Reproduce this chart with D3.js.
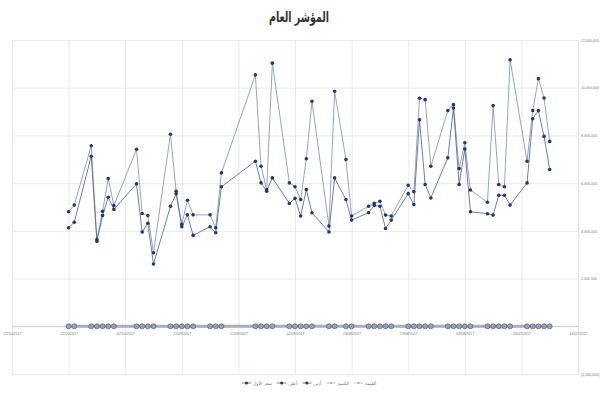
<!DOCTYPE html>
<html><head><meta charset="utf-8">
<script src="https://cdn.jsdelivr.net/npm/d3@7"></script>
<style>body{margin:0;background:#fff}svg{display:block}text{font-family:"Liberation Sans",Arial,sans-serif}</style>
</head><body><svg id="c" width="600" height="400"></svg>
<script>
const title = "المؤشر العام";
const dates = ["19/07/2017","20/07/2017","21/07/2017","22/07/2017","23/07/2017",
"26/07/2017","27/07/2017","28/07/2017","29/07/2017","30/07/2017",
"02/08/2017","03/08/2017","04/08/2017","05/08/2017","06/08/2017",
"09/08/2017","10/08/2017","11/08/2017","12/08/2017","13/08/2017",
"16/08/2017","17/08/2017","18/08/2017","19/08/2017","20/08/2017",
"23/08/2017","24/08/2017","26/08/2017","27/08/2017",
"30/08/2017","31/08/2017","01/09/2017","02/09/2017","03/09/2017",
"06/09/2017","07/09/2017","08/09/2017","09/09/2017",
"15/09/2017","16/09/2017","17/09/2017",
"20/09/2017","21/09/2017","22/09/2017","23/09/2017","24/09/2017",
"27/09/2017","28/09/2017","29/09/2017","30/09/2017",
"04/10/2017","05/10/2017","06/10/2017","07/10/2017","08/10/2017",
"11/10/2017","12/10/2017"];
const highValues = [7750000,9570000,10380000,9040000,6920000,
11170000,5850000,5940000,9250000,5200000,
5710000,7690000,6610000,9290000,9040000,
6710000,9500000,9560000,5640000,5910000,
4620000,4660000,5240000,5150000,5030000,
4620000,6990000,9850000,4200000,
9430000,7020000,5310000,5850000,6010000,
11030000,5730000,6710000,10540000,
6430000,4130000,4670000,
4670000,5280000,4270000,5660000,8050000,
3080000,4640000,4730000,7420000,
5060000,6190000,4820000,3640000,7570000,
5080000,4800000];
const lowValues = [6570000,7960000,9040000,8700000,6010000,
5080000,5490000,5490000,4660000,4720000,
4800000,7430000,5940000,9150000,7060000,
5380000,5940000,8660000,5100000,5560000,
4450000,4100000,5030000,5060000,4760000,
4450000,5310000,6220000,3950000,
4760000,5730000,4620000,5360000,5150000,
6220000,5660000,6010000,6920000,
5850000,3920000,4170000,
3810000,4670000,4170000,5560000,5030000,
2610000,4320000,3950000,5970000,
4900000,5410000,4640000,3560000,7130000,
4360000,4130000];
const baseValues = [0,0,0,0,0,0,0,0,0,0,0,0,0,0,0,0,0,0,0,0,0,0,0,0,0,0,0,0,0,0,0,0,0,0,0,0,0,0,0,0,0,0,0,0,0,0,0,0,0,0,0,0,0,0,0,0,0];
const xTickLabels = ["14/07/2017","24/07/2017","03/08/2017","13/08/2017","23/08/2017","02/09/2017","12/09/2017","22/09/2017","02/10/2017","12/10/2017","22/10/2017"];
const yTicks = [-2000000,0,2000000,4000000,6000000,8000000,10000000,12000000];
const legendNames = ["سعر الأول","أعلى","أدنى","الكمية","القيمة"];

const parse = d3.timeParse("%d/%m/%Y");
const svg = d3.select("#c");
const x = d3.scaleTime().domain([parse(xTickLabels[0]), parse(xTickLabels[xTickLabels.length-1])]).range([578, 12]);
const y = d3.scaleLinear().domain([-2000000, 12000000]).range([374, 40]);

// horizontal grid
svg.append("g").attr("transform","translate(578,0)")
  .call(d3.axisLeft(y).tickValues(yTicks).tickSize(566).tickFormat(""))
  .call(g=>{g.select(".domain").remove();g.selectAll("line").attr("stroke","#e3e3e3").attr("stroke-width",0.8);});
// vertical grid
svg.append("g").attr("transform","translate(0,374)")
  .call(d3.axisTop(x).tickValues(xTickLabels.map(parse)).tickSize(334).tickFormat(""))
  .call(g=>{g.select(".domain").remove();g.selectAll("line").attr("stroke","#e3e3e3").attr("stroke-width",0.8);});
// zero line
svg.append("line").attr("x1",12).attr("x2",578).attr("y1",y(0)).attr("y2",y(0)).attr("stroke","#c8c8c8").attr("stroke-width",0.8);
// x axis labels
svg.append("g").attr("transform",`translate(0,${y(0)})`)
  .call(d3.axisBottom(x).tickValues(xTickLabels.map(parse)).tickSize(0).tickPadding(6).tickFormat(d3.timeFormat("%d/%m/%Y")))
  .call(g=>{g.select(".domain").remove();g.selectAll("text").attr("font-size",3.6).attr("fill","#777");});
// y axis right
const yf = v => v===0 ? "-" : (v<0 ? "("+d3.format(",")(-v)+")" : d3.format(",")(v));
svg.append("g").attr("transform","translate(578,0)")
  .call(d3.axisRight(y).tickValues(yTicks).tickSize(0).tickPadding(3).tickFormat(yf))
  .call(g=>{g.select(".domain").attr("stroke","#dedede").attr("stroke-width",0.8);g.selectAll("text").attr("font-size",3.6).attr("fill","#777");});

const pts = (vals) => dates.map((d,i)=>({x:x(parse(d)), y:y(vals[i])}));
const line = d3.line().x(d=>d.x).y(d=>d.y);

// base series
svg.append("path").datum(pts(baseValues)).attr("d",line).attr("fill","none").attr("stroke","#a9adb8").attr("stroke-width",3);
svg.append("g").selectAll("circle").data(pts(baseValues)).join("circle")
  .attr("cx",d=>d.x).attr("cy",d=>d.y).attr("r",2.5).attr("fill","#9aa2b4").attr("stroke","#566078").attr("stroke-width",0.7);

// high & low
[[highValues,"#7d8cb2"],[lowValues,"#4a5d8f"]].forEach(([vals,col])=>{
  svg.append("path").datum(pts(vals)).attr("d",line).attr("fill","none").attr("stroke",col).attr("stroke-width",0.8);
});
[highValues,lowValues].forEach(vals=>{
  svg.append("g").selectAll("circle").data(pts(vals)).join("circle")
    .attr("cx",d=>d.x).attr("cy",d=>d.y).attr("r",1.8).attr("fill","#22396a");
});

// title
svg.append("text").attr("x",299).attr("y",22).attr("text-anchor","middle")
  .attr("font-size",15).attr("font-weight","bold").attr("fill","#333")
  .attr("textLength",60).attr("lengthAdjust","spacingAndGlyphs")
  .style("font-family","'DejaVu Sans',sans-serif").text(title);

// legend
const legItems = [
  {name:legendNames[0], dark:true},{name:legendNames[1], dark:true},{name:legendNames[2], dark:true},
  {name:legendNames[3], dark:false},{name:legendNames[4], dark:false}];
const lg = svg.append("g");
let lx = 242;
legItems.forEach(it=>{
  const g = lg.append("g").attr("transform",`translate(${lx},383)`);
  g.append("line").attr("x1",0).attr("x2",9).attr("y1",0).attr("y2",0).attr("stroke",it.dark?"#4a5d8f":"#b0b4bf").attr("stroke-width",0.8);
  g.append("circle").attr("cx",4.5).attr("cy",0).attr("r",it.dark?1.5:0.9).attr("fill",it.dark?"#22396a":"#9aa2b4");
  const t = g.append("text").attr("x",11).attr("y",1.5).attr("font-size",4.5).attr("fill","#777")
    .style("font-family","'DejaVu Sans',sans-serif").text(it.name);
  lx += 11 + t.node().getComputedTextLength() + 5;
});
</script></body></html>
